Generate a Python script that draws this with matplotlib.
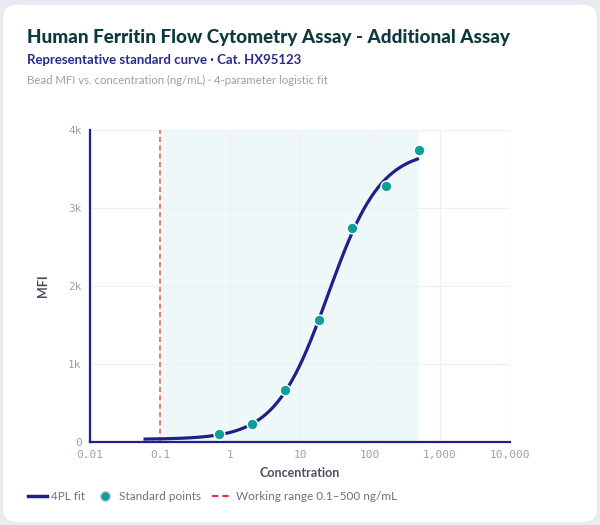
import matplotlib.pyplot as plt
import numpy as np
from matplotlib.patches import FancyBboxPatch
from matplotlib.lines import Line2D
from matplotlib.ticker import FixedLocator, FixedFormatter

# standard points (3-fold dilution from 500 ng/mL)
conc = [0.686, 2.06, 6.17, 18.5, 55.6, 166.7, 500]
mfi = [99, 227, 664, 1562, 2744, 3277, 3745]

# 4PL fit parameters (bottom, top, EC50, slope)
fit_bottom = 30
fit_top = 3750
fit_ec50 = 25.2
fit_slope = 1.15
fit_range = (0.058, 500)

work_lo, work_hi = 0.1, 500

x_ticks = [0.01, 0.1, 1, 10, 100, 1000, 10000]
x_labels = ['0.01', '0.1', '1', '10', '100', '1,000', '10,000']
y_ticks = [0, 1000, 2000, 3000, 4000]
y_labels = ['0', '1k', '2k', '3k', '4k']

navy = '#211F8A'
teal = '#0E9F98'
grid_c = '#EEF0F5'
tick_c = '#9AA0AE'

fig = plt.figure(figsize=(6, 5.25), dpi=100)
fig.patch.set_facecolor('#E9EBF1')
card = FancyBboxPatch((3 / 600, 3 / 525), 594 / 600, 517 / 525,
                      boxstyle='round,pad=0,rounding_size=0.025',
                      transform=fig.transFigure, facecolor='white',
                      edgecolor='none', zorder=-10)
fig.patches.append(card)

fig.text(27 / 600, 1 - 37 / 525, 'Human Ferritin Flow Cytometry Assay - Additional Assay',
         fontsize=13.6, fontweight='black', color='#0D3A40', family='Lato', va='center')
fig.text(27 / 600, 1 - 60 / 525, 'Representative standard curve · Cat. HX95123',
         fontsize=9.5, fontweight='bold', color='#2B2A8F', family='Lato', va='center')
fig.text(27 / 600, 1 - 80 / 525, 'Bead MFI vs. concentration (ng/mL) · 4-parameter logistic fit',
         fontsize=8.2, color='#9A9FA8', family='Lato', va='center')

ax = fig.add_axes([90 / 600, 1 - 441.7 / 525, 420 / 600, 311.7 / 525])
ax.set_facecolor('none')
ax.set_xscale('log')
ax.set_xlim(0.01, 10000)
ax.set_ylim(0, 4000)

ax.axvspan(work_lo, work_hi, color='#EEF8F9', zorder=0, lw=0)
ax.axvline(work_lo, color='#E06666', ls=(0, (3, 2)), lw=1.2, zorder=1)

xs = np.logspace(np.log10(fit_range[0]), np.log10(fit_range[1]), 300)
ys = fit_top - (fit_top - fit_bottom) / (1 + (xs / fit_ec50) ** fit_slope)
ax.plot(xs, ys, color=navy, lw=2.3, zorder=3, solid_capstyle='butt')
ax.scatter(conc, mfi, s=60, color=teal, edgecolor='white', linewidth=1, zorder=4)

ax.xaxis.set_major_locator(FixedLocator(x_ticks))
ax.xaxis.set_major_formatter(FixedFormatter(x_labels))
ax.xaxis.set_minor_locator(FixedLocator([]))
ax.set_yticks(y_ticks)
ax.set_yticklabels(y_labels)
ax.grid(True, color=grid_c, lw=1, zorder=0)
ax.set_axisbelow(True)
for s in ['top', 'right']:
    ax.spines[s].set_visible(False)
for s in ['left', 'bottom']:
    ax.spines[s].set_color(navy)
    ax.spines[s].set_linewidth(1.6)
ax.tick_params(length=0, pad=6, labelsize=8, labelcolor=tick_c)
for lab in ax.get_xticklabels() + ax.get_yticklabels():
    lab.set_family('DejaVu Sans Mono')

ax.set_xlabel('Concentration', fontsize=9, fontweight='bold', color='#4A5060',
              family='Lato', labelpad=5)
ax.set_ylabel('MFI', fontsize=9, fontweight='bold', color='#4A5060',
              family='Lato', labelpad=14)

handles = [
    Line2D([], [], color=navy, lw=2.5),
    Line2D([], [], marker='o', ls='none', markersize=7, markerfacecolor=teal,
           markeredgecolor='#C8CCD8', markeredgewidth=1),
    Line2D([], [], color='#E03030', lw=1.5, ls=(0, (3, 2))),
]
fig.legend(handles, ['4PL fit', 'Standard points', 'Working range 0.1–500 ng/mL'],
           loc='center left', bbox_to_anchor=(17 / 600, 1 - 497 / 525), ncol=3,
           frameon=False, handlelength=1.6, handletextpad=0.4, columnspacing=0.9,
           prop={'family': 'Lato', 'size': 8.5}, labelcolor='#6B7280')

fig.savefig('out.png', dpi=100, facecolor=fig.get_facecolor())
